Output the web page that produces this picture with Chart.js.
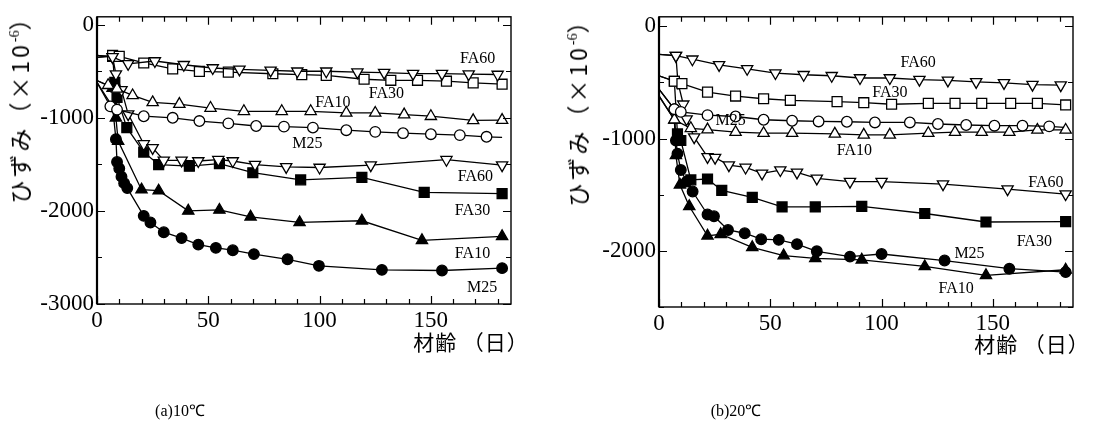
<!DOCTYPE html>
<html>
<head>
<meta charset="utf-8">
<script src="https://cdn.jsdelivr.net/npm/chart.js@4/dist/chart.umd.min.js"></script>
<style>
  html, body { margin: 0; padding: 0; background: #fff; }
  body { position: relative; width: 1116px; height: 429px; overflow: hidden; }
  .panel { position: absolute; top: 0; width: 558px; height: 429px; }
  .ytitle, .xtitle, .caption {
    position: absolute; white-space: nowrap; color: #000;
    transform: translate(-50%, -50%);
  }
  .ytitle {
    font-family: "Noto Sans CJK JP", sans-serif; font-size: 23px; letter-spacing: 3px;
    transform: translate(-50%, -50%) rotate(-90deg);
  }
  .ytitle sup { font-family: "Liberation Serif", serif; font-size: 14px; vertical-align: 10px; line-height: 0; letter-spacing: 0; }
  .xtitle { font-family: "Noto Sans CJK JP", sans-serif; font-size: 21px; letter-spacing: 1px; }
  .caption { font-family: "Liberation Serif", serif; font-size: 16px; }
</style>
</head>
<body>
<div class="panel" style="left:0"><canvas id="chart10"></canvas></div>
<div class="panel" style="left:558px"><canvas id="chart20"></canvas></div>

<div class="ytitle" style="left:19px; top:104px">ひずみ（×10<sup>-6</sup>）</div>
<div class="ytitle" style="left:577px; top:107px">ひずみ（×10<sup>-6</sup>）</div>
<div class="xtitle" style="left:471px; top:341px">材齢 （日）</div>
<div class="xtitle" style="left:1032px; top:343px">材齢 （日）</div>
<div class="caption" style="left:180px; top:410px">(a)10℃</div>
<div class="caption" style="left:736px; top:410px">(b)20℃</div>

<script>
// ---- axis ticks ----
const xTickDays = [0, 50, 100, 150];
const yTicks10 = [0, -1000, -2000, -3000];
const yTicks20 = [0, -1000, -2000];

// ---- 10℃ : upper group (open markers), [day, strain ×10^-6] ----
const a10_FA60 = [[0,-330],[7,-345],[14,-420],[26,-390],[39,-430],[52,-465],[64,-480],[78,-490],[90,-500],[103,-500],[117,-510],[129,-515],[142,-525],[155,-525],[167,-530],[180,-535]];
const a10_FA30 = [[0,-350],[7,-330],[10,-340],[21,-411],[34,-474],[46,-502],[59,-509],[79,-527],[92,-537],[103,-544],[120,-586],[132,-597],[144,-597],[157,-607],[169,-625],[182,-639]];
const a10_FA10 = [[0,-600],[5,-650],[9,-690],[16,-760],[25,-835],[37,-853],[51,-895],[66,-930],[83,-930],[96,-930],[112,-948],[125,-948],[138,-965],[150,-983],[169,-1028],[182,-1025]];
const a10_M25  = [[0,-620],[6,-877],[9,-912],[21,-983],[34,-1000],[46,-1035],[59,-1060],[71.5,-1088],[84,-1095],[97,-1105],[112,-1133],[125,-1151],[137.5,-1165],[150,-1176],[163,-1186],[175,-1204],[182,-1211]];

// ---- 10℃ : lower group ----
const b10_FA60 = [[0,-330],[7,-345],[8.5,-530],[11,-700],[14,-960],[21,-1281],[25,-1323],[30,-1457],[38,-1457],[45.5,-1464],[54.5,-1450],[61,-1464],[71,-1502],[85,-1527],[100,-1534],[123,-1509],[157,-1450],[182,-1509]];
const b10_FA30 = [[0,-350],[7,-340],[8,-620],[9,-780],[13.4,-1106],[21,-1369],[27.7,-1502],[41.5,-1520],[55,-1492],[70,-1590],[91.5,-1667],[119,-1639],[147,-1800],[182,-1815]];
const b10_FA10 = [[0,-600],[7,-680],[8.5,-1000],[9.5,-1250],[20,-1772],[27.7,-1783],[41,-2000],[55,-1990],[69,-2064],[91,-2124],[119,-2106],[146,-2317],[182,-2274]];
const b10_M25  = [[0,-620],[7,-880],[8.5,-1229],[9,-1474],[10,-1544],[11,-1632],[12.2,-1702],[13.6,-1755],[21,-2053],[24,-2124],[30,-2229],[38,-2292],[45.5,-2362],[53.4,-2397],[61,-2422],[70.5,-2464],[85.6,-2520],[99.7,-2590],[128,-2633],[155,-2640],[182,-2615]];

// ---- 20℃ : upper group ----
const a20_FA60 = [[0,-250],[7.6,-261],[15,-293],[27,-343],[39.6,-378],[52.3,-416],[65,-431],[77.6,-440],[90.3,-460],[103.7,-460],[117,-475],[129.8,-481],[142.5,-495],[155,-504],[167.8,-519],[180.5,-524]];
const a20_FA30 = [[0,-440],[6.9,-489],[10.3,-510],[21.8,-586],[34.4,-621],[47,-645],[59,-659],[80,-671],[92,-680],[104.5,-694],[121,-686],[133,-686],[145,-686],[158,-686],[170,-686],[182.7,-700]];
const a20_M25  = [[0,-560],[6.9,-738],[9.8,-762],[21.8,-791],[34.4,-803],[47,-832],[59.8,-841],[71.7,-847],[84.4,-850],[97,-856],[112.7,-856],[125.3,-870],[138,-879],[150.7,-885],[163.3,-885],[175.3,-891],[182,-900]];
const a20_FA10 = [[0,-620],[6.9,-832],[14.3,-908],[21.8,-920],[34.4,-943],[47,-952],[59.8,-952],[79,-958],[92,-967],[103.7,-967],[121,-952],[133,-943],[145,-943],[157.4,-943],[170,-923],[182.7,-923]];

// ---- 20℃ : lower group ----
const b20_FA60 = [[0,-250],[7.6,-261],[8.5,-500],[10.9,-694],[12.4,-826],[15.8,-987],[21.8,-1163],[25.2,-1169],[31.4,-1236],[38.9,-1257],[46.3,-1310],[54.5,-1280],[62,-1301],[70.9,-1354],[85.8,-1383],[100,-1383],[127.6,-1406],[156.6,-1450],[182.7,-1494]];
const b20_FA30 = [[0,-440],[6.9,-489],[8.3,-958],[9.8,-1017],[14.3,-1368],[21.8,-1360],[28.2,-1462],[41.9,-1524],[55.3,-1609],[70.2,-1609],[91.1,-1603],[119.4,-1667],[146.9,-1743],[182.7,-1740]];
const b20_FA10 = [[0,-620],[6.9,-832],[7.6,-1150],[9.4,-1412],[13.6,-1603],[21.8,-1866],[27.7,-1852],[41.9,-1969],[56,-2042],[70.2,-2066],[91.1,-2080],[119.4,-2139],[146.9,-2218],[182.7,-2168]];
const b20_M25  = [[0,-560],[6.9,-738],[7.6,-1017],[8.3,-1134],[9.8,-1280],[12.4,-1383],[15.1,-1471],[21.8,-1676],[24.7,-1691],[31,-1814],[38.5,-1843],[45.9,-1896],[53.8,-1902],[62,-1940],[70.9,-2004],[85.8,-2051],[100,-2028],[128.3,-2086],[157.4,-2159],[182.7,-2189]];

// ---- curve tags, anchored in data units ----
const tagNames10   = ['FA60', 'FA30', 'FA10', 'M25', 'FA60', 'FA30', 'FA10', 'M25'];
const tagDays10    = [171, 130, 106, 94.5, 170, 168.7, 168.7, 173];
const tagStrains10 = [-369, -737, -842, -1281, -1632, -2000, -2457, -2826];
const tagNames20   = ['FA60', 'FA30', 'M25', 'FA10', 'FA60', 'FA30', 'M25', 'FA10'];
const tagDays20    = [116.4, 103.7, 32.2, 87.8, 173.8, 168.6, 139.5, 133.5];
const tagStrains20 = [-328, -592, -841, -1113, -1392, -1916, -2028, -2335];

// marker look per mix
const MARKS = {
  FA60: { style: 'triangle', rot: 180, r: 6.5 },
  FA30: { style: 'rect', rot: 0, r: 7 },
  FA10: { style: 'triangle', rot: 0, r: 6.5 },
  M25:  { style: 'circle', rot: 0, r: 5.3 }
};

function series(points, mix, filled, bareTail) {
  const m = MARKS[mix];
  const n = points.length;
  return {
    label: mix,
    data: points.map(p => ({ x: p[0], y: p[1] })),
    borderColor: '#000',
    borderWidth: 1.3,
    tension: 0,
    fill: false,
    pointStyle: m.style,
    rotation: m.rot,
    pointRotation: m.rot,
    pointRadius: ctx => (ctx.dataIndex === 0 || (bareTail && ctx.dataIndex === n - 1)) ? 0 : m.r,
    pointBorderColor: '#000',
    pointBorderWidth: 1.3,
    pointBackgroundColor: filled ? '#000' : '#fff'
  };
}

// frame, inward ticks on all four sides, and curve tags
const frameAndTags = {
  id: 'frameAndTags',
  afterDraw(chart, args, opts) {
    const { ctx, chartArea: a, scales: { x, y } } = chart;
    ctx.save();
    ctx.strokeStyle = '#000';
    ctx.lineWidth = 1.4;
    ctx.strokeRect(a.left, a.top, a.right - a.left, a.bottom - a.top);
    ctx.lineWidth = 2.2;
    ctx.beginPath(); ctx.moveTo(a.left, a.top); ctx.lineTo(a.left, a.bottom); ctx.stroke();

    ctx.lineWidth = 1.2;
    ctx.beginPath();
    for (let d = 0; d <= x.max + 1e-6; d += 10) {
      const px = Math.round(x.getPixelForValue(d)) + 0.5;
      const len = d % 50 === 0 ? 8 : 5;
      ctx.moveTo(px, a.bottom); ctx.lineTo(px, a.bottom - len);
      ctx.moveTo(px, a.top); ctx.lineTo(px, a.top + len);
    }
    for (let v = 0; v >= y.min - 1e-6; v -= 500) {
      const py = Math.round(y.getPixelForValue(v)) + 0.5;
      const len = v % 1000 === 0 ? 8 : 5;
      ctx.moveTo(a.left, py); ctx.lineTo(a.left + len, py);
      ctx.moveTo(a.right, py); ctx.lineTo(a.right - len, py);
    }
    ctx.stroke();

    ctx.fillStyle = '#000';
    ctx.font = '16px "Liberation Serif", serif';
    ctx.textAlign = 'center';
    ctx.textBaseline = 'middle';
    opts.names.forEach((t, i) => {
      ctx.fillText(t, x.getPixelForValue(opts.days[i]), y.getPixelForValue(opts.strains[i]));
    });
    ctx.restore();
  }
};

const plainNumber = v => String(v);

function makeChart(id, datasets, yMin, yTickList, pad, yWidth, xHeight, tags) {
  return new Chart(document.getElementById(id), {
    type: 'line',
    data: { datasets },
    plugins: [frameAndTags],
    options: {
      responsive: true,
      maintainAspectRatio: false,
      animation: false,
      layout: { padding: pad },
      plugins: {
        legend: { display: false },
        tooltip: { enabled: false },
        frameAndTags: tags
      },
      scales: {
        x: {
          type: 'linear', min: 0, max: 186,
          grid: { display: false, drawTicks: false },
          border: { display: false },
          afterBuildTicks: s => { s.ticks = xTickDays.map(v => ({ value: v })); },
          afterFit: s => { s.height = xHeight; },
          ticks: { color: '#000', padding: 3, maxRotation: 0, autoSkip: false, callback: plainNumber,
                   font: { family: '"Liberation Serif", serif', size: 23 } }
        },
        y: {
          type: 'linear', min: yMin, max: 85,
          grid: { display: false, drawTicks: false },
          border: { display: false },
          afterBuildTicks: s => { s.ticks = yTickList.map(v => ({ value: v })); },
          afterFit: s => { s.width = yWidth; },
          ticks: { color: '#000', padding: 3, autoSkip: false, callback: plainNumber,
                   font: { family: '"Liberation Serif", serif', size: 23 } }
        }
      }
    }
  });
}

makeChart('chart10', [
  series(a10_FA60, 'FA60', false), series(a10_FA30, 'FA30', false),
  series(a10_FA10, 'FA10', false), series(a10_M25, 'M25', false, true),
  series(b10_FA60, 'FA60', false), series(b10_FA30, 'FA30', true),
  series(b10_FA10, 'FA10', true),  series(b10_M25, 'M25', true)
], -3000, yTicks10, { left: 0, right: 47, top: 10, bottom: 100 }, 97, 25,
  { names: tagNames10, days: tagDays10, strains: tagStrains10 });

makeChart('chart20', [
  series(a20_FA60, 'FA60', false), series(a20_FA30, 'FA30', false),
  series(a20_M25, 'M25', false, true), series(a20_FA10, 'FA10', false),
  series(b20_FA60, 'FA60', false), series(b20_FA30, 'FA30', true),
  series(b20_FA10, 'FA10', true),  series(b20_M25, 'M25', true)
], -2500, yTicks20, { left: 0, right: 43, top: 12, bottom: 97 }, 101, 25,
  { names: tagNames20, days: tagDays20, strains: tagStrains20 });
</script>
</body>
</html>
